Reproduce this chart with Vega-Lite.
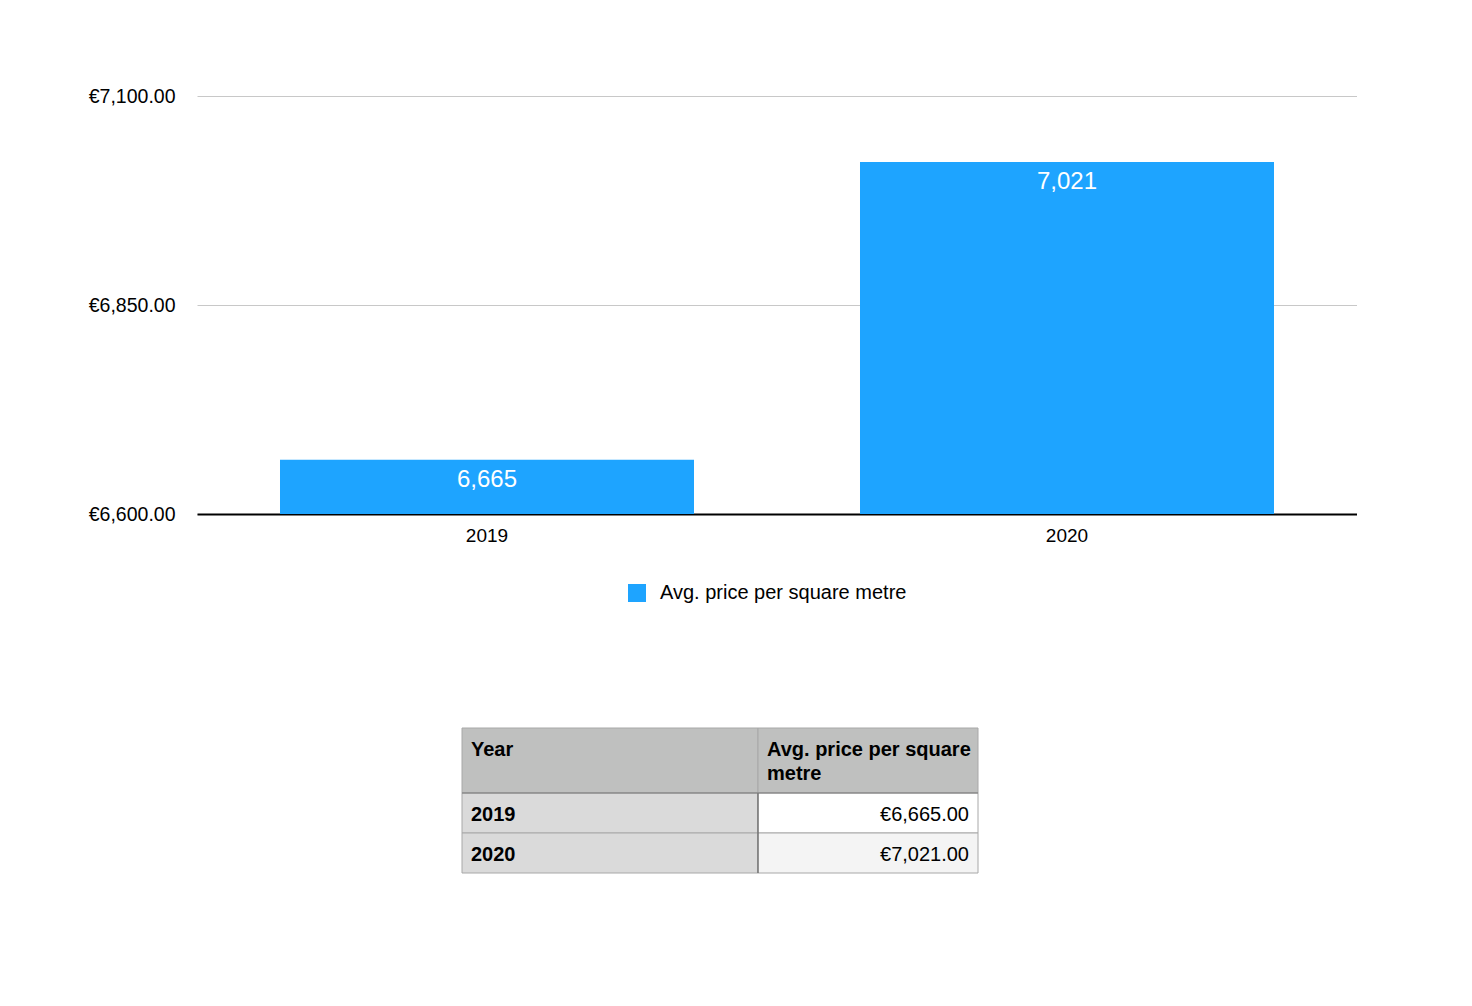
{
  "$schema": "https://vega.github.io/schema/vega-lite/v6.json",
  "background": "white",
  "padding": {"left": 88, "top": 86, "right": 0, "bottom": 0},
  "config": {"font": "Liberation Sans", "view": {"stroke": null}},
  "spacing": 124,
  "resolve": {"scale": {"color": "independent"}, "legend": {"color": "independent"}},
  "vconcat": [
    {
      "width": 1160,
      "height": 418,
      "data": {"values": [
        {"Year": "2019", "price": 6665, "series": "Avg. price per square metre"},
        {"Year": "2020", "price": 7021, "series": "Avg. price per square metre"}
      ]},
      "encoding": {
        "x": {"field": "Year", "type": "nominal",
          "scale": {"paddingInner": 0.2862, "paddingOuter": 0.1431},
          "axis": {"title": null, "labelAngle": 0, "labelFontSize": 19, "labelColor": "black", "ticks": false, "domainColor": "black", "domainWidth": 2, "labelPadding": 12}}
      },
      "layer": [
        {
          "mark": {"type": "bar", "clip": true},
          "encoding": {
            "y": {"field": "price", "type": "quantitative",
              "scale": {"domain": [6600, 7100], "zero": false, "nice": false},
              "axis": {"title": null, "values": [6600, 6850, 7100], "labelExpr": "'€' + format(datum.value, ',.2f')", "labelFontSize": 19.5, "labelColor": "black", "ticks": false, "domain": false, "labelPadding": 22, "gridColor": "#c8c8c8", "gridWidth": 1}},
            "y2": {"datum": 6600},
            "color": {"field": "series", "type": "nominal", "scale": {"range": ["#1ea4ff"]},
              "legend": {"title": null, "orient": "none", "legendX": 430, "legendY": 487, "direction": "horizontal", "symbolType": "square", "symbolSize": 324, "symbolStrokeWidth": 0, "labelFontSize": 20, "labelColor": "black", "labelLimit": 500, "labelOffset": 13}}
          }
        },
        {
          "mark": {"type": "text", "color": "white", "fontSize": 24, "baseline": "middle", "dy": 20},
          "encoding": {
            "y": {"field": "price", "type": "quantitative"},
            "text": {"field": "price", "type": "quantitative", "format": ","}
          }
        }
      ]
    },
    {
      "width": 1160,
      "height": 145,
      "data": {"values": [
        {"x0": 0, "x1": 7.4, "y0": 0, "y1": 1.625, "kind": "header", "label": "Year"},
        {"x0": 7.4, "x1": 12.9, "y0": 0, "y1": 1.625, "kind": "header", "label": "Avg. price per square\nmetre"},
        {"x0": 0, "x1": 7.4, "y0": 1.625, "y1": 2.625, "kind": "rowhead", "label": "2019"},
        {"x0": 7.4, "x1": 12.9, "y0": 1.625, "y1": 2.625, "kind": "value", "price": 6665},
        {"x0": 0, "x1": 7.4, "y0": 2.625, "y1": 3.625, "kind": "rowhead", "label": "2020"},
        {"x0": 7.4, "x1": 12.9, "y0": 2.625, "y1": 3.625, "kind": "valuealt", "price": 7021}
      ]},
      "transform": [{"calculate": "(datum.y0 + datum.y1) / 2", "as": "yc"}],
      "encoding": {
        "x": {"field": "x0", "type": "quantitative", "scale": {"domain": [-6.625, 22.375], "nice": false, "zero": false}, "axis": null},
        "y": {"field": "y0", "type": "quantitative", "scale": {"domain": [0, 3.625], "nice": false, "zero": false, "reverse": true}, "axis": null}
      },
      "layer": [
        {
          "mark": {"type": "rect", "stroke": "#a8a8a8", "strokeWidth": 1},
          "encoding": {
            "x2": {"field": "x1"},
            "y2": {"field": "y1"},
            "color": {"field": "kind", "type": "nominal", "scale": {"domain": ["header", "rowhead", "value", "valuealt"], "range": ["#bfc0bf", "#dadada", "#ffffff", "#f4f4f4"]}, "legend": null}
          }
        },
        {
          "transform": [{"filter": "datum.kind == 'value'"}],
          "mark": {"type": "rule", "color": "#555555", "strokeWidth": 1},
          "encoding": {"y": {"field": "y0", "type": "quantitative"}, "y2": {"datum": 3.625}}
        },
        {
          "transform": [{"filter": "datum.kind == 'header' && datum.x0 == 0"}],
          "mark": {"type": "rule", "color": "#7a7a7a", "strokeWidth": 1},
          "encoding": {"y": {"field": "y1", "type": "quantitative"}, "x2": {"datum": 12.9}}
        },
        {
          "transform": [{"filter": "datum.kind == 'header'"}],
          "mark": {"type": "text", "align": "left", "baseline": "top", "dx": 9, "dy": 12, "fontSize": 20, "fontWeight": "bold", "color": "black", "lineBreak": "\n", "lineHeight": 24},
          "encoding": {"text": {"field": "label"}}
        },
        {
          "transform": [{"filter": "datum.kind == 'rowhead'"}],
          "mark": {"type": "text", "align": "left", "baseline": "middle", "dx": 9, "dy": 2, "fontSize": 20, "fontWeight": "bold", "color": "black"},
          "encoding": {"y": {"field": "yc", "type": "quantitative"}, "text": {"field": "label"}}
        },
        {
          "transform": [{"filter": "datum.kind == 'value' || datum.kind == 'valuealt'"}, {"calculate": "'€' + format(datum.price, ',.2f')", "as": "ptext"}],
          "mark": {"type": "text", "align": "right", "baseline": "middle", "dx": -9, "dy": 2, "fontSize": 20, "color": "black"},
          "encoding": {"x": {"field": "x1", "type": "quantitative"}, "y": {"field": "yc", "type": "quantitative"}, "text": {"field": "ptext"}}
        }
      ]
    }
  ]
}
